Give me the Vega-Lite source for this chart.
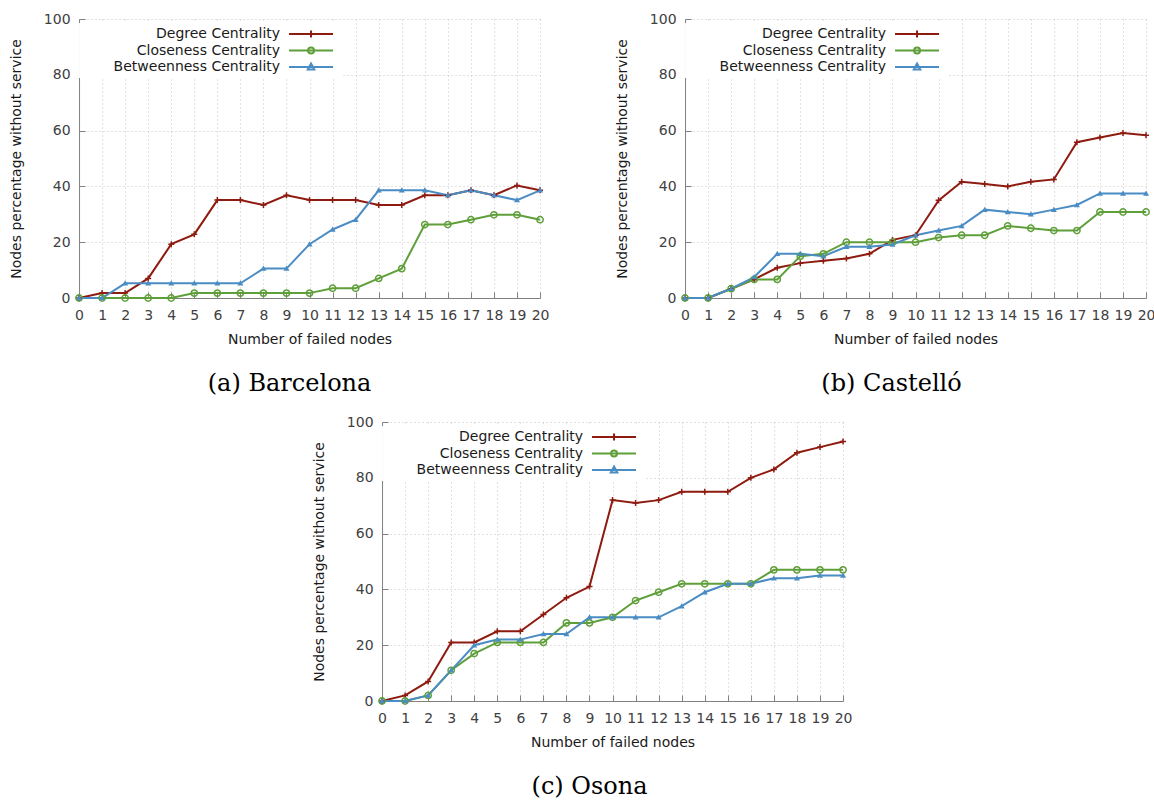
{
  "$schema": "https://vega.github.io/schema/vega-lite/v6.json",
  "background": "white",
  "padding": {"left": 9, "top": 12, "right": 0, "bottom": 0},
  "autosize": {"type": "pad"},
  "datasets": {
    "barcelona": [
      {"series":"Degree Centrality","nodes":0,"pct":0},{"series":"Degree Centrality","nodes":1,"pct":1.75},{"series":"Degree Centrality","nodes":2,"pct":1.75},{"series":"Degree Centrality","nodes":3,"pct":7.02},{"series":"Degree Centrality","nodes":4,"pct":19.3},{"series":"Degree Centrality","nodes":5,"pct":22.81},{"series":"Degree Centrality","nodes":6,"pct":35.09},{"series":"Degree Centrality","nodes":7,"pct":35.09},{"series":"Degree Centrality","nodes":8,"pct":33.33},{"series":"Degree Centrality","nodes":9,"pct":36.84},{"series":"Degree Centrality","nodes":10,"pct":35.09},{"series":"Degree Centrality","nodes":11,"pct":35.09},{"series":"Degree Centrality","nodes":12,"pct":35.09},{"series":"Degree Centrality","nodes":13,"pct":33.33},{"series":"Degree Centrality","nodes":14,"pct":33.33},{"series":"Degree Centrality","nodes":15,"pct":36.84},{"series":"Degree Centrality","nodes":16,"pct":36.84},{"series":"Degree Centrality","nodes":17,"pct":38.6},{"series":"Degree Centrality","nodes":18,"pct":36.84},{"series":"Degree Centrality","nodes":19,"pct":40.35},{"series":"Degree Centrality","nodes":20,"pct":38.6},
      {"series":"Closeness Centrality","nodes":0,"pct":0},{"series":"Closeness Centrality","nodes":1,"pct":0},{"series":"Closeness Centrality","nodes":2,"pct":0},{"series":"Closeness Centrality","nodes":3,"pct":0},{"series":"Closeness Centrality","nodes":4,"pct":0},{"series":"Closeness Centrality","nodes":5,"pct":1.75},{"series":"Closeness Centrality","nodes":6,"pct":1.75},{"series":"Closeness Centrality","nodes":7,"pct":1.75},{"series":"Closeness Centrality","nodes":8,"pct":1.75},{"series":"Closeness Centrality","nodes":9,"pct":1.75},{"series":"Closeness Centrality","nodes":10,"pct":1.75},{"series":"Closeness Centrality","nodes":11,"pct":3.51},{"series":"Closeness Centrality","nodes":12,"pct":3.51},{"series":"Closeness Centrality","nodes":13,"pct":7.02},{"series":"Closeness Centrality","nodes":14,"pct":10.53},{"series":"Closeness Centrality","nodes":15,"pct":26.32},{"series":"Closeness Centrality","nodes":16,"pct":26.32},{"series":"Closeness Centrality","nodes":17,"pct":28.07},{"series":"Closeness Centrality","nodes":18,"pct":29.82},{"series":"Closeness Centrality","nodes":19,"pct":29.82},{"series":"Closeness Centrality","nodes":20,"pct":28.07},
      {"series":"Betweenness Centrality","nodes":0,"pct":0},{"series":"Betweenness Centrality","nodes":1,"pct":0},{"series":"Betweenness Centrality","nodes":2,"pct":5.26},{"series":"Betweenness Centrality","nodes":3,"pct":5.26},{"series":"Betweenness Centrality","nodes":4,"pct":5.26},{"series":"Betweenness Centrality","nodes":5,"pct":5.26},{"series":"Betweenness Centrality","nodes":6,"pct":5.26},{"series":"Betweenness Centrality","nodes":7,"pct":5.26},{"series":"Betweenness Centrality","nodes":8,"pct":10.53},{"series":"Betweenness Centrality","nodes":9,"pct":10.53},{"series":"Betweenness Centrality","nodes":10,"pct":19.3},{"series":"Betweenness Centrality","nodes":11,"pct":24.56},{"series":"Betweenness Centrality","nodes":12,"pct":28.07},{"series":"Betweenness Centrality","nodes":13,"pct":38.6},{"series":"Betweenness Centrality","nodes":14,"pct":38.6},{"series":"Betweenness Centrality","nodes":15,"pct":38.6},{"series":"Betweenness Centrality","nodes":16,"pct":36.84},{"series":"Betweenness Centrality","nodes":17,"pct":38.6},{"series":"Betweenness Centrality","nodes":18,"pct":36.84},{"series":"Betweenness Centrality","nodes":19,"pct":35.09},{"series":"Betweenness Centrality","nodes":20,"pct":38.6}
    ],
    "castello": [
      {"series":"Degree Centrality","nodes":0,"pct":0},{"series":"Degree Centrality","nodes":1,"pct":0},{"series":"Degree Centrality","nodes":2,"pct":3.33},{"series":"Degree Centrality","nodes":3,"pct":6.67},{"series":"Degree Centrality","nodes":4,"pct":10.83},{"series":"Degree Centrality","nodes":5,"pct":12.5},{"series":"Degree Centrality","nodes":6,"pct":13.33},{"series":"Degree Centrality","nodes":7,"pct":14.17},{"series":"Degree Centrality","nodes":8,"pct":15.83},{"series":"Degree Centrality","nodes":9,"pct":20.83},{"series":"Degree Centrality","nodes":10,"pct":22.5},{"series":"Degree Centrality","nodes":11,"pct":35},{"series":"Degree Centrality","nodes":12,"pct":41.67},{"series":"Degree Centrality","nodes":13,"pct":40.83},{"series":"Degree Centrality","nodes":14,"pct":40},{"series":"Degree Centrality","nodes":15,"pct":41.67},{"series":"Degree Centrality","nodes":16,"pct":42.5},{"series":"Degree Centrality","nodes":17,"pct":55.83},{"series":"Degree Centrality","nodes":18,"pct":57.5},{"series":"Degree Centrality","nodes":19,"pct":59.17},{"series":"Degree Centrality","nodes":20,"pct":58.33},
      {"series":"Closeness Centrality","nodes":0,"pct":0},{"series":"Closeness Centrality","nodes":1,"pct":0},{"series":"Closeness Centrality","nodes":2,"pct":3.33},{"series":"Closeness Centrality","nodes":3,"pct":6.67},{"series":"Closeness Centrality","nodes":4,"pct":6.67},{"series":"Closeness Centrality","nodes":5,"pct":15},{"series":"Closeness Centrality","nodes":6,"pct":15.83},{"series":"Closeness Centrality","nodes":7,"pct":20},{"series":"Closeness Centrality","nodes":8,"pct":20},{"series":"Closeness Centrality","nodes":9,"pct":20},{"series":"Closeness Centrality","nodes":10,"pct":20},{"series":"Closeness Centrality","nodes":11,"pct":21.67},{"series":"Closeness Centrality","nodes":12,"pct":22.5},{"series":"Closeness Centrality","nodes":13,"pct":22.5},{"series":"Closeness Centrality","nodes":14,"pct":25.83},{"series":"Closeness Centrality","nodes":15,"pct":25},{"series":"Closeness Centrality","nodes":16,"pct":24.17},{"series":"Closeness Centrality","nodes":17,"pct":24.17},{"series":"Closeness Centrality","nodes":18,"pct":30.83},{"series":"Closeness Centrality","nodes":19,"pct":30.83},{"series":"Closeness Centrality","nodes":20,"pct":30.83},
      {"series":"Betweenness Centrality","nodes":0,"pct":0},{"series":"Betweenness Centrality","nodes":1,"pct":0},{"series":"Betweenness Centrality","nodes":2,"pct":3.33},{"series":"Betweenness Centrality","nodes":3,"pct":7.5},{"series":"Betweenness Centrality","nodes":4,"pct":15.83},{"series":"Betweenness Centrality","nodes":5,"pct":15.83},{"series":"Betweenness Centrality","nodes":6,"pct":15},{"series":"Betweenness Centrality","nodes":7,"pct":18.33},{"series":"Betweenness Centrality","nodes":8,"pct":18.33},{"series":"Betweenness Centrality","nodes":9,"pct":19.17},{"series":"Betweenness Centrality","nodes":10,"pct":22.5},{"series":"Betweenness Centrality","nodes":11,"pct":24.17},{"series":"Betweenness Centrality","nodes":12,"pct":25.83},{"series":"Betweenness Centrality","nodes":13,"pct":31.67},{"series":"Betweenness Centrality","nodes":14,"pct":30.83},{"series":"Betweenness Centrality","nodes":15,"pct":30},{"series":"Betweenness Centrality","nodes":16,"pct":31.67},{"series":"Betweenness Centrality","nodes":17,"pct":33.33},{"series":"Betweenness Centrality","nodes":18,"pct":37.5},{"series":"Betweenness Centrality","nodes":19,"pct":37.5},{"series":"Betweenness Centrality","nodes":20,"pct":37.5}
    ],
    "osona": [
      {"series":"Degree Centrality","nodes":0,"pct":0},{"series":"Degree Centrality","nodes":1,"pct":2},{"series":"Degree Centrality","nodes":2,"pct":7},{"series":"Degree Centrality","nodes":3,"pct":21},{"series":"Degree Centrality","nodes":4,"pct":21},{"series":"Degree Centrality","nodes":5,"pct":25},{"series":"Degree Centrality","nodes":6,"pct":25},{"series":"Degree Centrality","nodes":7,"pct":31},{"series":"Degree Centrality","nodes":8,"pct":37},{"series":"Degree Centrality","nodes":9,"pct":41},{"series":"Degree Centrality","nodes":10,"pct":72},{"series":"Degree Centrality","nodes":11,"pct":71},{"series":"Degree Centrality","nodes":12,"pct":72},{"series":"Degree Centrality","nodes":13,"pct":75},{"series":"Degree Centrality","nodes":14,"pct":75},{"series":"Degree Centrality","nodes":15,"pct":75},{"series":"Degree Centrality","nodes":16,"pct":80},{"series":"Degree Centrality","nodes":17,"pct":83},{"series":"Degree Centrality","nodes":18,"pct":89},{"series":"Degree Centrality","nodes":19,"pct":91},{"series":"Degree Centrality","nodes":20,"pct":93},
      {"series":"Closeness Centrality","nodes":0,"pct":0},{"series":"Closeness Centrality","nodes":1,"pct":0},{"series":"Closeness Centrality","nodes":2,"pct":2},{"series":"Closeness Centrality","nodes":3,"pct":11},{"series":"Closeness Centrality","nodes":4,"pct":17},{"series":"Closeness Centrality","nodes":5,"pct":21},{"series":"Closeness Centrality","nodes":6,"pct":21},{"series":"Closeness Centrality","nodes":7,"pct":21},{"series":"Closeness Centrality","nodes":8,"pct":28},{"series":"Closeness Centrality","nodes":9,"pct":28},{"series":"Closeness Centrality","nodes":10,"pct":30},{"series":"Closeness Centrality","nodes":11,"pct":36},{"series":"Closeness Centrality","nodes":12,"pct":39},{"series":"Closeness Centrality","nodes":13,"pct":42},{"series":"Closeness Centrality","nodes":14,"pct":42},{"series":"Closeness Centrality","nodes":15,"pct":42},{"series":"Closeness Centrality","nodes":16,"pct":42},{"series":"Closeness Centrality","nodes":17,"pct":47},{"series":"Closeness Centrality","nodes":18,"pct":47},{"series":"Closeness Centrality","nodes":19,"pct":47},{"series":"Closeness Centrality","nodes":20,"pct":47},
      {"series":"Betweenness Centrality","nodes":0,"pct":0},{"series":"Betweenness Centrality","nodes":1,"pct":0},{"series":"Betweenness Centrality","nodes":2,"pct":2},{"series":"Betweenness Centrality","nodes":3,"pct":11},{"series":"Betweenness Centrality","nodes":4,"pct":20},{"series":"Betweenness Centrality","nodes":5,"pct":22},{"series":"Betweenness Centrality","nodes":6,"pct":22},{"series":"Betweenness Centrality","nodes":7,"pct":24},{"series":"Betweenness Centrality","nodes":8,"pct":24},{"series":"Betweenness Centrality","nodes":9,"pct":30},{"series":"Betweenness Centrality","nodes":10,"pct":30},{"series":"Betweenness Centrality","nodes":11,"pct":30},{"series":"Betweenness Centrality","nodes":12,"pct":30},{"series":"Betweenness Centrality","nodes":13,"pct":34},{"series":"Betweenness Centrality","nodes":14,"pct":39},{"series":"Betweenness Centrality","nodes":15,"pct":42},{"series":"Betweenness Centrality","nodes":16,"pct":42},{"series":"Betweenness Centrality","nodes":17,"pct":44},{"series":"Betweenness Centrality","nodes":18,"pct":44},{"series":"Betweenness Centrality","nodes":19,"pct":45},{"series":"Betweenness Centrality","nodes":20,"pct":45}
    ]
  },
  "spacing": 19,
  "center": true,
  "resolve": {"scale": {"color": "independent", "shape": "independent", "stroke": "independent"}, "legend": {"color": "independent", "shape": "independent", "stroke": "independent"}},
  "vconcat": [
    {
      "spacing": 66,
      "resolve": {"scale": {"color": "independent", "shape": "independent", "stroke": "independent"}, "legend": {"color": "independent", "shape": "independent", "stroke": "independent"}},
      "hconcat": [
        {
          "width": 461, "height": 279,
          "data": {"name": "barcelona"},
          "title": {"text": "(a) Barcelona", "dx": -20},
          "encoding": {
            "x": {"field": "nodes", "type": "quantitative", "scale": {"domain": [0, 20], "nice": false, "zero": false}, "axis": {"values": [0,1,2,3,4,5,6,7,8,9,10,11,12,13,14,15,16,17,18,19,20], "title": "Number of failed nodes"}},
            "y": {"field": "pct", "type": "quantitative", "scale": {"domain": [0, 100], "nice": false}, "axis": {"values": [0,20,40,60,80,100], "title": "Nodes percentage without service"}}
          },
          "layer": [
            {"mark": {"type": "line", "strokeWidth": 2},
             "encoding": {"color": {"field": "series", "type": "nominal", "scale": {"domain": ["Betweenness Centrality","Closeness Centrality","Degree Centrality"], "range": ["#4a8cc4","#5f9f3a","#8e1b10"]}, "legend": null}}},
            {"transform": [{"filter": "datum.series === 'Degree Centrality'"}], "mark": {"type": "point", "shape": "M-1,0H1M0,-1V1", "size": 36, "filled": false, "strokeWidth": 1.5, "opacity": 1, "color": "#8e1b10"}},
            {"transform": [{"filter": "datum.series === 'Closeness Centrality'"}], "mark": {"type": "point", "shape": "circle", "size": 40, "filled": false, "strokeWidth": 1.5, "opacity": 1, "color": "#5f9f3a"}},
            {"transform": [{"filter": "datum.series === 'Betweenness Centrality'"}], "mark": {"type": "point", "shape": "M0,-1L1,0.75H-1Z", "size": 36, "filled": true, "opacity": 1, "color": "#4a8cc4"}},
            {"mark": {"type": "point", "opacity": 0, "filled": false, "size": 1, "strokeWidth": 2},
             "encoding": {
               "shape": {"field": "series", "type": "nominal", "scale": {"domain": ["Degree Centrality","Closeness Centrality","Betweenness Centrality"], "range": ["M-4.4,0H4.4M0,-0.7V0.7", "M-4.4,0H4.4M-0.6,0A0.6,0.6 0 1,0 0.6,0A0.6,0.6 0 1,0 -0.6,0", "M-4.4,0H4.4M0,-0.7L0.65,0.5H-0.65Z"]}, "legend": {"title": null, "orient": "none", "legendX": 0, "legendY": 4}},
               "stroke": {"field": "series", "type": "nominal", "scale": {"domain": ["Degree Centrality","Closeness Centrality","Betweenness Centrality"], "range": ["#8e1b10","#5f9f3a","#4a8cc4"]}, "legend": {"title": null, "orient": "none", "legendX": 0, "legendY": 4}}
             }}
          ]
        },
        {
          "width": 461, "height": 279,
          "data": {"name": "castello"},
          "title": {"text": "(b) Castelló", "dx": -24},
          "encoding": {
            "x": {"field": "nodes", "type": "quantitative", "scale": {"domain": [0, 20], "nice": false, "zero": false}, "axis": {"values": [0,1,2,3,4,5,6,7,8,9,10,11,12,13,14,15,16,17,18,19,20], "title": "Number of failed nodes"}},
            "y": {"field": "pct", "type": "quantitative", "scale": {"domain": [0, 100], "nice": false}, "axis": {"values": [0,20,40,60,80,100], "title": "Nodes percentage without service"}}
          },
          "layer": [
            {"mark": {"type": "line", "strokeWidth": 2},
             "encoding": {"color": {"field": "series", "type": "nominal", "scale": {"domain": ["Betweenness Centrality","Closeness Centrality","Degree Centrality"], "range": ["#4a8cc4","#5f9f3a","#8e1b10"]}, "legend": null}}},
            {"transform": [{"filter": "datum.series === 'Degree Centrality'"}], "mark": {"type": "point", "shape": "M-1,0H1M0,-1V1", "size": 36, "filled": false, "strokeWidth": 1.5, "opacity": 1, "color": "#8e1b10"}},
            {"transform": [{"filter": "datum.series === 'Closeness Centrality'"}], "mark": {"type": "point", "shape": "circle", "size": 40, "filled": false, "strokeWidth": 1.5, "opacity": 1, "color": "#5f9f3a"}},
            {"transform": [{"filter": "datum.series === 'Betweenness Centrality'"}], "mark": {"type": "point", "shape": "M0,-1L1,0.75H-1Z", "size": 36, "filled": true, "opacity": 1, "color": "#4a8cc4"}},
            {"mark": {"type": "point", "opacity": 0, "filled": false, "size": 1, "strokeWidth": 2},
             "encoding": {
               "shape": {"field": "series", "type": "nominal", "scale": {"domain": ["Degree Centrality","Closeness Centrality","Betweenness Centrality"], "range": ["M-4.4,0H4.4M0,-0.7V0.7", "M-4.4,0H4.4M-0.6,0A0.6,0.6 0 1,0 0.6,0A0.6,0.6 0 1,0 -0.6,0", "M-4.4,0H4.4M0,-0.7L0.65,0.5H-0.65Z"]}, "legend": {"title": null, "orient": "none", "legendX": 0, "legendY": 4}},
               "stroke": {"field": "series", "type": "nominal", "scale": {"domain": ["Degree Centrality","Closeness Centrality","Betweenness Centrality"], "range": ["#8e1b10","#5f9f3a","#4a8cc4"]}, "legend": {"title": null, "orient": "none", "legendX": 0, "legendY": 4}}
             }}
          ]
        }
      ]
    },
    {
      "width": 461, "height": 279,
      "data": {"name": "osona"},
      "title": {"text": "(c) Osona", "dx": -23},
      "encoding": {
        "x": {"field": "nodes", "type": "quantitative", "scale": {"domain": [0, 20], "nice": false, "zero": false}, "axis": {"values": [0,1,2,3,4,5,6,7,8,9,10,11,12,13,14,15,16,17,18,19,20], "title": "Number of failed nodes"}},
        "y": {"field": "pct", "type": "quantitative", "scale": {"domain": [0, 100], "nice": false}, "axis": {"values": [0,20,40,60,80,100], "title": "Nodes percentage without service"}}
      },
      "layer": [
        {"mark": {"type": "line", "strokeWidth": 2},
         "encoding": {"color": {"field": "series", "type": "nominal", "scale": {"domain": ["Betweenness Centrality","Closeness Centrality","Degree Centrality"], "range": ["#4a8cc4","#5f9f3a","#8e1b10"]}, "legend": null}}},
        {"transform": [{"filter": "datum.series === 'Degree Centrality'"}], "mark": {"type": "point", "shape": "M-1,0H1M0,-1V1", "size": 36, "filled": false, "strokeWidth": 1.5, "opacity": 1, "color": "#8e1b10"}},
        {"transform": [{"filter": "datum.series === 'Closeness Centrality'"}], "mark": {"type": "point", "shape": "circle", "size": 40, "filled": false, "strokeWidth": 1.5, "opacity": 1, "color": "#5f9f3a"}},
        {"transform": [{"filter": "datum.series === 'Betweenness Centrality'"}], "mark": {"type": "point", "shape": "M0,-1L1,0.75H-1Z", "size": 36, "filled": true, "opacity": 1, "color": "#4a8cc4"}},
        {"mark": {"type": "point", "opacity": 0, "filled": false, "size": 1, "strokeWidth": 2},
         "encoding": {
           "shape": {"field": "series", "type": "nominal", "scale": {"domain": ["Degree Centrality","Closeness Centrality","Betweenness Centrality"], "range": ["M-4.4,0H4.4M0,-0.7V0.7", "M-4.4,0H4.4M-0.6,0A0.6,0.6 0 1,0 0.6,0A0.6,0.6 0 1,0 -0.6,0", "M-4.4,0H4.4M0,-0.7L0.65,0.5H-0.65Z"]}, "legend": {"title": null, "orient": "none", "legendX": 0, "legendY": 4}},
           "stroke": {"field": "series", "type": "nominal", "scale": {"domain": ["Degree Centrality","Closeness Centrality","Betweenness Centrality"], "range": ["#8e1b10","#5f9f3a","#4a8cc4"]}, "legend": {"title": null, "orient": "none", "legendX": 0, "legendY": 4}}
         }}
      ]
    }
  ],
  "config": {
    "view": {"stroke": null},
    "font": "DejaVu Sans",
    "axis": {
      "domainColor": "#808080", "domainWidth": 1,
      "tickColor": "#808080", "tickSize": -6, "tickWidth": 1,
      "labelFont": "DejaVu Sans", "labelFontSize": 14, "labelColor": "#404040",
      "labelFlush": false, "labelOverlap": false,
      "titleFont": "DejaVu Sans", "titleFontSize": 14, "titleFontWeight": "normal", "titleColor": "#1a1a1a",
      "grid": true, "gridColor": "#c4c4c4", "gridDash": [1, 3], "gridWidth": 1
    },
    "axisX": {"labelPadding": 16, "titlePadding": 10, "labelAngle": 0},
    "axisY": {"labelPadding": 15, "titlePadding": 20},
    "legend": {
      "fillColor": "white", "padding": 4, "rowPadding": 1.5,
      "labelAlign": "right", "labelOffset": -38, "symbolOffset": 221,
      "symbolSize": 100, "symbolStrokeWidth": 2, "symbolOpacity": 1,
      "labelLimit": 400, "labelFont": "DejaVu Sans", "labelFontSize": 14, "labelColor": "#1a1a1a"
    },
    "title": {"font": "DejaVu Serif", "fontSize": 24, "fontWeight": "normal", "color": "#000000", "orient": "bottom", "offset": 26, "anchor": "middle"}
  }
}
